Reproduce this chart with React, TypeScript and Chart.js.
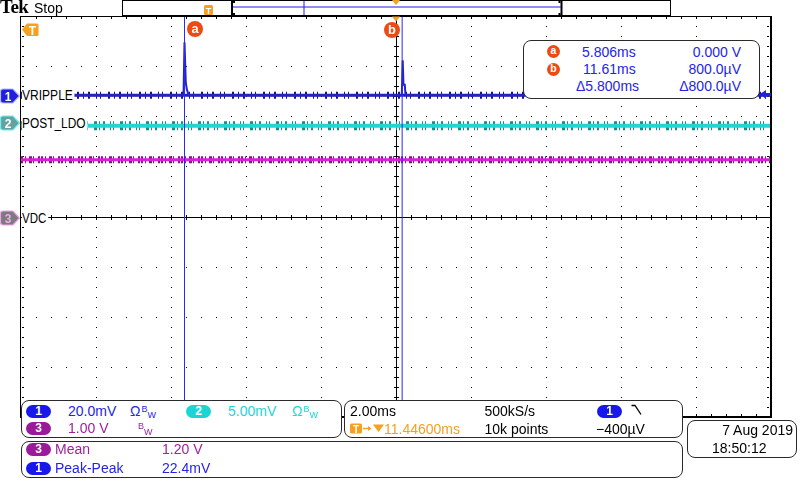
import React, { useEffect, useRef } from 'react';
import { Chart, registerables } from 'chart.js';

Chart.register(...registerables);

// ---------- scope settings ----------
const TIME_LEFT_MS = 1.446;
const TIME_PER_DIV_MS = 2.0;
const H_DIVS = 10;
const V_DIVS = 8;

// ---------- channel 1 (VRIPPLE) ----------
const ch1ScaleMvPerDiv = 20;
const ch1OffsetDiv = 2.43;
const ch1TimesMs = [1.446, 5.78, 5.806, 5.84, 5.87, 5.92, 11.6, 11.625, 11.645, 11.68, 11.7, 21.446];
const ch1ValuesMv = [-0.2, -0.2, 20.9, 4.8, 2.0, -0.2, -0.2, 13.7, 4.0, 4.0, -0.2, -0.2];
const ch1BandTimesMs = [1.446, 21.446];
const ch1BandValuesMv = [-0.2, -0.2];

// ---------- channel 2 (POST_LDO) ----------
const ch2ScaleMvPerDiv = 5;
const ch2OffsetDiv = 1.83;
const ch2TimesMs = [1.446, 21.446];
const ch2ValuesMv = [-0.1, -0.1];

// ---------- channel 3 (VDC) ----------
const ch3ScaleVPerDiv = 1;
const ch3OffsetDiv = 0;
const ch3TimesMs = [1.446, 21.446];
const ch3ValuesV = [1.13, 1.13];

// ---------- cursors ----------
const cursorTimesMs = [5.806, 11.61];

const FONT = '"Liberation Sans", Arial, sans-serif';
const BLUE = '#2424e8';
const CYAN = '#1ed4d4';
const PURPLE = '#a01ea0';
const ORANGE = '#f5a01e';
const RED_ORANGE = '#ee4a14';

const toPts = (ts: number[], vs: number[], scale: number, offset: number) =>
  ts.map((t, i) => ({ x: t, y: offset + vs[i] / scale }));

const graticulePlugin = {
  id: 'graticule',
  beforeDatasetsDraw(chart: any) {
    const { ctx, chartArea: a, scales } = chart;
    const xs = scales.x;
    const ys = scales.y;
    ctx.save();
    ctx.fillStyle = '#000';
    const xMin = TIME_LEFT_MS;
    for (let i = 1; i < H_DIVS; i++) {
      if (i === H_DIVS / 2) continue;
      const px = Math.round(xs.getPixelForValue(xMin + i * TIME_PER_DIV_MS));
      for (let j = 1; j < V_DIVS * 5; j++) {
        const py = Math.round(ys.getPixelForValue(V_DIVS / 2 - j * 0.2));
        ctx.fillRect(px, py, 1, 1);
      }
    }
    for (let k = 1; k < V_DIVS; k++) {
      if (k === V_DIVS / 2) continue;
      const py = Math.round(ys.getPixelForValue(V_DIVS / 2 - k));
      for (let j = 1; j < H_DIVS * 5; j++) {
        const px = Math.round(xs.getPixelForValue(xMin + j * TIME_PER_DIV_MS / 5));
        ctx.fillRect(px, py, 1, 1);
      }
    }
    const cy = Math.round(ys.getPixelForValue(0));
    const cx = Math.round(xs.getPixelForValue(xMin + (H_DIVS / 2) * TIME_PER_DIV_MS));
    ctx.fillRect(a.left, cy, a.right - a.left, 1);
    ctx.fillRect(cx, a.top, 1, a.bottom - a.top);
    for (let j = 1; j < H_DIVS * 5; j++) {
      const px = Math.round(xs.getPixelForValue(xMin + j * TIME_PER_DIV_MS / 5));
      ctx.fillRect(px, cy - 2, 1, 5);
      ctx.fillRect(px, a.top + 1, 1, 2);
      ctx.fillRect(px, a.bottom - 3, 1, 2);
    }
    for (let j = 1; j < V_DIVS * 5; j++) {
      const py = Math.round(ys.getPixelForValue(V_DIVS / 2 - j * 0.2));
      ctx.fillRect(cx - 2, py, 5, 1);
      ctx.fillRect(a.left + 1, py, 2, 1);
      ctx.fillRect(a.right - 4, py, 2, 1);
    }
    ctx.restore();
  },
  afterDatasetsDraw(chart: any) {
    const { ctx, chartArea: a } = chart;
    ctx.save();
    ctx.fillStyle = '#000';
    ctx.fillRect(a.left - 1, a.top, a.right - a.left + 2, 1);
    ctx.fillRect(a.left - 1, a.bottom - 1, a.right - a.left + 2, 2);
    ctx.fillRect(a.left - 1, a.top, 1, a.bottom - a.top);
    ctx.fillRect(a.right - 1, a.top, 2, a.bottom - a.top);
    ctx.restore();
  },
};

type TxtProps = { x: number; y: number; color?: string; size?: number; right?: boolean; children: any; style?: any };
function Txt({ x, y, color = '#000', size = 14, right, children, style }: TxtProps) {
  const pos: any = right ? { right: 800 - x } : { left: x };
  return (
    <div
      style={{
        position: 'absolute',
        top: y - 8,
        ...pos,
        fontFamily: FONT,
        fontSize: size,
        lineHeight: '16px',
        color,
        whiteSpace: 'nowrap',
        ...style,
      }}
    >
      {children}
    </div>
  );
}

function Pill({ x, y, bg, n }: { x: number; y: number; bg: string; n: string }) {
  return (
    <div
      style={{
        position: 'absolute',
        left: x,
        top: y,
        width: 25,
        height: 13,
        borderRadius: 7,
        background: bg,
        color: '#fff',
        fontFamily: FONT,
        fontWeight: 'bold',
        fontSize: 12,
        lineHeight: '13px',
        textAlign: 'center',
      }}
    >
      {n}
    </div>
  );
}

function Bw({ x, y, color, omega }: { x: number; y: number; color: string; omega?: boolean }) {
  return (
    <Txt x={x} y={y} color={color}>
      {omega ? 'Ω' : ''}
      <span style={{ fontSize: 9, position: 'relative', top: -4, marginLeft: 1 }}>B</span>
      <span style={{ fontSize: 9, position: 'relative', top: 2 }}>W</span>
    </Txt>
  );
}

function Panel({ x, y, w, h }: { x: number; y: number; w: number; h: number }) {
  return (
    <div
      style={{
        position: 'absolute',
        left: x,
        top: y,
        width: w,
        height: h,
        boxSizing: 'border-box',
        border: '1.5px solid #2a2a2a',
        borderRadius: 8,
        background: '#fff',
      }}
    />
  );
}

function ChanFlag({ y, fill, stroke, color, n }: { y: number; fill: string; stroke: string; color: string; n: string }) {
  return (
    <svg style={{ position: 'absolute', left: 0, top: y - 8, overflow: 'visible' }} width={21} height={16}>
      <path d="M3 1 L13 1 L19.5 8 L13 15 L3 15 Q0.5 15 0.5 12.5 L0.5 3.5 Q0.5 1 3 1 Z" fill={fill} stroke={stroke} strokeWidth={1.2} />
      <text x={8} y={12.5} fill={color} fontFamily={FONT} fontWeight="bold" fontSize={12} textAnchor="middle">
        {n}
      </text>
    </svg>
  );
}

function Label({ x, y, text, sx }: { x: number; y: number; text: string; sx: number }) {
  return (
    <div
      style={{
        position: 'absolute',
        left: x,
        top: y - 8,
        fontFamily: FONT,
        fontSize: 14,
        lineHeight: '16px',
        background: '#fff',
        paddingRight: 2,
        whiteSpace: 'nowrap',
        transform: `scaleX(${sx})`,
        transformOrigin: 'left center',
      }}
    >
      {text}
    </div>
  );
}

function Circle({ cx, cy, r, letter }: { cx: number; cy: number; r: number; letter: string }) {
  return (
    <svg style={{ position: 'absolute', left: cx - r - 1, top: cy - r - 1 }} width={2 * r + 2} height={2 * r + 2}>
      <circle cx={r + 1} cy={r + 1} r={r} fill={RED_ORANGE} />
      <text x={r + 1} y={r + 1 + r * 0.45} fill="#fff" fontFamily={FONT} fontWeight="bold" fontSize={r * 1.6} textAnchor="middle">
        {letter}
      </text>
    </svg>
  );
}

export default function App() {
  const ref = useRef<HTMLCanvasElement | null>(null);
  useEffect(() => {
    if (!ref.current) return;
    const xMax = TIME_LEFT_MS + H_DIVS * TIME_PER_DIV_MS;
    const cursorSets = cursorTimesMs.map((t) => ({
      data: [
        { x: t, y: -V_DIVS / 2 },
        { x: t, y: V_DIVS / 2 },
      ],
      borderColor: '#2a2af0',
      borderWidth: 1,
      pointRadius: 0,
    }));
    const chart = new Chart(ref.current, {
      type: 'line',
      data: {
        datasets: [
          ...cursorSets,
          {
            data: toPts(ch1TimesMs, ch1ValuesMv, ch1ScaleMvPerDiv, ch1OffsetDiv),
            borderColor: '#2424c4',
            borderWidth: 2,
            pointRadius: 0,
          },
          {
            data: toPts(ch1BandTimesMs, ch1BandValuesMv, ch1ScaleMvPerDiv, ch1OffsetDiv),
            borderColor: '#2020ac',
            borderWidth: 3,
            pointRadius: 0,
          },
          {
            data: toPts(ch1BandTimesMs, ch1BandValuesMv, ch1ScaleMvPerDiv, ch1OffsetDiv),
            borderColor: '#14147c',
            borderWidth: 7,
            borderDash: [1, 4, 2, 6, 1, 3, 1, 7, 2, 4],
            pointRadius: 0,
          },
          {
            data: toPts(ch2TimesMs, ch2ValuesMv, ch2ScaleMvPerDiv, ch2OffsetDiv),
            borderColor: '#22d4d4',
            borderWidth: 4,
            pointRadius: 0,
          },
          {
            data: toPts(ch2TimesMs, ch2ValuesMv, ch2ScaleMvPerDiv, ch2OffsetDiv),
            borderColor: '#148a8a',
            borderWidth: 9,
            borderDash: [1, 3, 2, 5, 1, 2, 1, 6, 3, 2],
            pointRadius: 0,
          },
          {
            data: toPts(ch3TimesMs, ch3ValuesV, ch3ScaleVPerDiv, ch3OffsetDiv),
            borderColor: '#d424d4',
            borderWidth: 3,
            pointRadius: 0,
          },
          {
            data: toPts(ch3TimesMs, ch3ValuesV, ch3ScaleVPerDiv, ch3OffsetDiv),
            borderColor: '#821282',
            borderWidth: 7,
            borderDash: [2, 2, 1, 3, 3, 1, 1, 4, 2, 1],
            pointRadius: 0,
          },
        ],
      },
      options: {
        animation: false,
        responsive: false,
        maintainAspectRatio: false,
        devicePixelRatio: 1,
        layout: { padding: { left: 21, top: 16, right: 29, bottom: 63 } },
        scales: {
          x: { type: 'linear', min: TIME_LEFT_MS, max: xMax, display: false },
          y: { type: 'linear', min: -V_DIVS / 2, max: V_DIVS / 2, display: false },
        },
        elements: { line: { tension: 0 }, point: { radius: 0 } },
        plugins: { legend: { display: false }, tooltip: { enabled: false } },
      },
      plugins: [graticulePlugin],
    } as any);
    return () => chart.destroy();
  }, []);

  return (
    <div style={{ position: 'fixed', left: 0, top: 0, width: 800, height: 480, background: '#fff', overflow: 'hidden' }}>
      <canvas ref={ref} width={800} height={480} style={{ position: 'absolute', left: 0, top: 0, width: 800, height: 480 }} />

      {/* top bar */}
      <div style={{ position: 'absolute', left: 0, top: -3, fontFamily: '"Liberation Serif", serif', fontWeight: 'bold', fontSize: 19, lineHeight: '20px', letterSpacing: -0.5 }}>Tek</div>
      <Txt x={34} y={8.4}>Stop</Txt>
      <div style={{ position: 'absolute', left: 122, top: 0, width: 549, height: 16, boxSizing: 'border-box', border: '1px solid #000', borderLeftWidth: 1.5, borderRightWidth: 1.5 }} />
      <svg style={{ position: 'absolute', left: 0, top: 0 }} width={800} height={40}>
        <rect x={231} y={0} width={2} height={16} fill="#000" />
        <rect x={560.5} y={0} width={2} height={16} fill="#000" />
        <rect x={233} y={1} width={2} height={2} fill="#000" />
        <rect x={233} y={13} width={2} height={2} fill="#000" />
        <rect x={558.5} y={1} width={2} height={2} fill="#000" />
        <rect x={558.5} y={13} width={2} height={2} fill="#000" />
        <rect x={233} y={6.5} width={328} height={1} fill="#2020e0" />
        <rect x={303.5} y={1} width={1} height={14} fill="#2020e0" />
        <rect x={204} y={5} width={9} height={10} rx={1.5} fill={ORANGE} />
        <text x={208.5} y={13.5} fill="#fff" fontFamily={FONT} fontWeight="bold" fontSize={9} textAnchor="middle">T</text>
        <path d="M392 0 L400 0 L396 5 Z" fill={ORANGE} />
        <path d="M392 16.5 L400 16.5 L396 21.5 Z" fill={ORANGE} />
        <path d="M22 29.5 L27 23.5 L37 23.5 Q38.5 23.5 38.5 25 L38.5 34.5 Q38.5 36 37 36 L27 36 Z" fill={ORANGE} />
        <text x={32.5} y={34.5} fill="#fff" fontFamily={FONT} fontWeight="bold" fontSize={12} textAnchor="middle">T</text>
      </svg>
      <svg style={{ position: 'absolute', left: 756, top: 88 }} width={18} height={14}>
        <path d="M4 6 L10 2 L10 5 L15 5 L15 8 L10 8 L10 11 Z" fill="#2020e0" />
      </svg>

      {/* cursor letters */}
      <Circle cx={195} cy={29} r={8} letter="a" />
      <Circle cx={392} cy={29.5} r={8} letter="b" />

      {/* channel labels and flags */}
      <Label x={22} y={95} text="VRIPPLE" sx={0.86} />
      <Label x={22} y={122.5} text="POST_LDO" sx={0.85} />
      <Label x={22} y={217.5} text="VDC" sx={0.82} />
      <ChanFlag y={96} fill="#1e1ee0" stroke="#b8b8ff" color="#fff" n="1" />
      <ChanFlag y={123} fill="#68a0a0" stroke="#6af0f0" color="#fff" n="2" />
      <ChanFlag y={218} fill="#7c7c7c" stroke="#f0a0f0" color="#f0a8f0" n="3" />

      {/* cursor readout box */}
      <div style={{ position: 'absolute', left: 523, top: 40, width: 237, height: 59, boxSizing: 'border-box', border: '1.5px solid #2a2a2a', borderRadius: 8, background: '#fff' }} />
      <Circle cx={553} cy={51.5} r={6.5} letter="a" />
      <Circle cx={553} cy={69} r={6.5} letter="b" />
      <Txt x={582} y={52} color={BLUE}>5.806ms</Txt>
      <Txt x={583} y={69} color={BLUE}>11.61ms</Txt>
      <Txt x={576} y={86} color={BLUE}>Δ5.800ms</Txt>
      <Txt x={741} y={52} color={BLUE} right>0.000 V</Txt>
      <Txt x={741} y={69} color={BLUE} right>800.0µV</Txt>
      <Txt x={741} y={86} color={BLUE} right>Δ800.0µV</Txt>

      {/* vertical settings panel */}
      <Panel x={21} y={400} w={321} h={38} />
      <Pill x={26} y={405} bg="#1818ec" n="1" />
      <Txt x={68} y={411} color={BLUE}>20.0mV</Txt>
      <Bw x={130} y={411} color={BLUE} omega />
      <Pill x={186} y={405} bg="#1cd4d4" n="2" />
      <Txt x={228} y={411} color={CYAN}>5.00mV</Txt>
      <Bw x={292} y={411} color={CYAN} omega />
      <Pill x={26} y={422} bg="#9a1a9a" n="3" />
      <Txt x={68} y={428} color={PURPLE}>1.00 V</Txt>
      <Bw x={137} y={428} color={PURPLE} />

      {/* horizontal / trigger panel */}
      <Panel x={344} y={400} w={339} h={38} />
      <Txt x={350} y={410.5}>2.00ms</Txt>
      <Txt x={484.5} y={410.5}>500kS/s</Txt>
      <Pill x={597} y={405} bg="#1818ec" n="1" />
      <svg style={{ position: 'absolute', left: 630, top: 403 }} width={14} height={14}>
        <path d="M1.5 2.5 L5 2.5 L11 11.5" stroke="#000" strokeWidth={1.3} fill="none" />
      </svg>
      <svg style={{ position: 'absolute', left: 349, top: 422 }} width={37} height={13}>
        <rect x={1} y={1.5} width={12} height={10} rx={1.5} fill={ORANGE} />
        <text x={7} y={10.5} fill="#fff" fontFamily={FONT} fontWeight="bold" fontSize={10} textAnchor="middle">T</text>
        <path d="M14 6.5 L21 6.5" stroke={ORANGE} strokeWidth={1.5} />
        <path d="M19 4 L22.5 6.5 L19 9 Z" fill={ORANGE} />
        <path d="M24 2.5 L35 2.5 L29.5 10 Z" fill={ORANGE} />
      </svg>
      <Txt x={384} y={428.5} color={ORANGE}>11.44600ms</Txt>
      <Txt x={484.5} y={428.5}>10k points</Txt>
      <Txt x={596} y={428.5}>−400µV</Txt>

      {/* measurement panel */}
      <Panel x={21} y={441} w={662} h={37} />
      <Pill x={26} y={443} bg="#9a1a9a" n="3" />
      <Txt x={55} y={449} color={PURPLE}>Mean</Txt>
      <Txt x={162} y={449} color={PURPLE}>1.20 V</Txt>
      <Pill x={26} y={462} bg="#1818ec" n="1" />
      <Txt x={55} y={468} color={BLUE}>Peak-Peak</Txt>
      <Txt x={162} y={468} color={BLUE}>22.4mV</Txt>

      {/* date box */}
      <Panel x={687} y={420} w={110} h={38} />
      <Txt x={793} y={430} right>7 Aug 2019</Txt>
      <Txt x={712} y={448}>18:50:12</Txt>
    </div>
  );
}
